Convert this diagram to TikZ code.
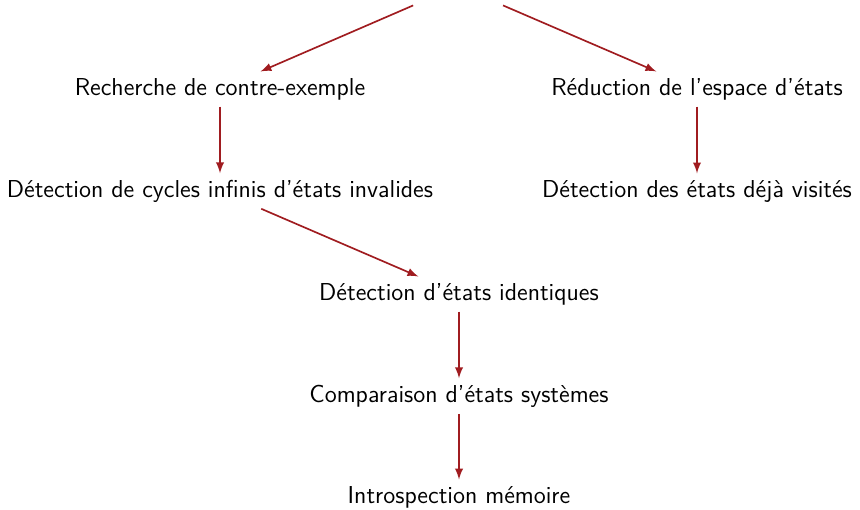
\documentclass[tikz,border=0pt]{standalone}
\usetikzlibrary{arrows}

\definecolor{edgered}{RGB}{160,28,32}

\begin{document}
\begin{tikzpicture}[
      x=0.48pt, y=-0.48pt,
      etape/.style={inner sep=3pt, font=\sffamily\fontsize{11.75}{14}\selectfont, text=black},
      lien/.style={draw=edgered, thick, -latex}
    ]
      \useasboundingbox (0,0) rectangle (860,509);
      % racine vide au dessus du cadre
      \node[minimum width=90*0.48pt, minimum height=38*0.48pt, inner sep=0pt] (racine) at (458,-14) {};
      \node[etape] (contre)   at (220,89)  {Recherche de contre-exemple};
      \node[etape] (reduc)    at (697,89)  {Réduction de l'espace d'états};
      \node[etape] (cycles)   at (220,191) {Détection de cycles infinis d'états invalides};
      \node[etape] (visites)  at (697,191) {Détection des états déjà visités};
      \node[etape] (ident)    at (459,294) {Détection d'états identiques};
      \node[etape] (compar)   at (459,396) {Comparaison d'états systèmes};
      \node[etape] (intro)    at (459,497) {Introspection mémoire};
      % arêtes
      \draw[lien] (racine) -- (contre);
      \draw[lien] (racine) -- (reduc);
      \draw[lien] (contre) -- (cycles);
      \draw[lien] (reduc) -- (visites);
      \draw[lien] (cycles) -- (ident);
      \draw[lien] (ident) -- (compar);
      \draw[lien] (compar) -- (intro);
    \end{tikzpicture}
\end{document}
